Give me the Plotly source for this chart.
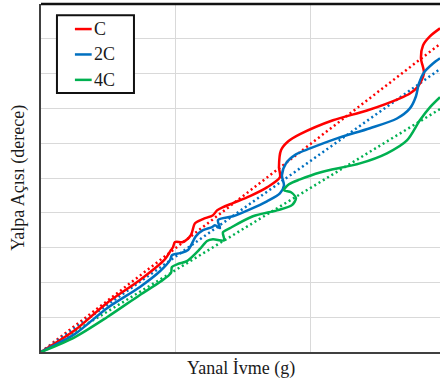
import plotly.graph_objects as go

# ---- data (Yanal İvme in g, Yalpa Açısı in derece) ----
series_names = ["C", "2C", "4C"]
series_colors = ["#FF0000", "#0070C0", "#00B050"]

c_x = [0, 0.252, 0.489, 0.733, 0.919, 0.963, 0.978, 0.993, 1.052, 1.111, 1.141, 1.2, 1.274, 1.304,
       1.348, 1.422, 1.548, 1.674, 1.770, 1.763, 1.778, 1.830, 1.919, 2.163, 2.415, 2.659,
       2.733, 2.793, 2.837, 2.815, 2.830, 2.881, 2.956]
c_y = [0, 0.63, 1.41, 2.07, 2.67, 2.93, 3.01, 3.16, 3.16, 3.36, 3.70, 3.82, 3.93, 4.07,
       4.16, 4.28, 4.48, 4.73, 5.02, 5.31, 5.80, 6.05, 6.26, 6.66, 6.94, 7.29,
       7.43, 7.63, 8.01, 8.44, 8.81, 9.07, 9.30]

c2_x = [0, 0.252, 0.489, 0.733, 0.881, 0.956, 0.970, 1.030, 1.089, 1.148, 1.2, 1.267, 1.289,
        1.326, 1.311, 1.422, 1.548, 1.674, 1.770, 1.8, 1.785, 1.815, 1.889, 1.993, 2.193,
        2.437, 2.637, 2.733, 2.778, 2.8, 2.837, 2.904, 2.956]
c2_y = [0, 0.52, 1.26, 1.87, 2.32, 2.64, 2.78, 2.84, 2.93, 3.33, 3.50, 3.59, 3.64,
        3.56, 3.79, 3.90, 4.10, 4.33, 4.56, 4.79, 5.08, 5.42, 5.68, 5.85, 6.14,
        6.43, 6.71, 7.0, 7.35, 7.72, 8.03, 8.29, 8.44]

c4_x = [0, 0.252, 0.489, 0.733, 0.881, 0.963, 0.970, 1.015, 1.081, 1.178, 1.230, 1.274, 1.356,
        1.348, 1.4, 1.570, 1.748, 1.859, 1.889, 1.852, 1.8, 1.837, 1.919, 2.067, 2.363,
        2.563, 2.711, 2.807, 2.881, 2.956]
c4_y = [0, 0.43, 1.0, 1.64, 2.01, 2.27, 2.44, 2.53, 2.61, 2.96, 3.19, 3.24, 3.21,
        3.44, 3.56, 3.90, 4.07, 4.22, 4.42, 4.59, 4.65, 4.82, 4.96, 5.16, 5.42,
        5.71, 6.08, 6.66, 7.03, 7.32]

# linear trend lines (dotted): endpoints
trend_x = [0, 2.956]
trend_c_y = [0, 8.85]
trend_2c_y = [0, 8.13]
trend_4c_y = [0, 6.98]

x_range = [0, 2.956]
y_range = [0, 10]

xs = [c_x, c2_x, c4_x]
ys = [c_y, c2_y, c4_y]
trend_ys = [trend_c_y, trend_2c_y, trend_4c_y]

FONT = "Liberation Serif, Times New Roman, serif"
TXT = "#1a1a1a"

fig = go.Figure()
for name, col, ty in zip(series_names, series_colors, trend_ys):
    fig.add_trace(go.Scatter(x=trend_x, y=ty, mode="lines", name=name + " trend",
                             line=dict(color=col, width=2.5, dash="2px,3px"),
                             showlegend=False, hoverinfo="skip"))
for name, col, x, y in zip(series_names, series_colors, xs, ys):
    fig.add_trace(go.Scatter(x=x, y=y, mode="lines", name=name,
                             line=dict(color=col, width=2.5, shape="spline", smoothing=0.8),
                             showlegend=False))

fig.update_layout(
    width=440, height=387,
    margin=dict(l=41, r=0, t=4, b=35),
    paper_bgcolor="white", plot_bgcolor="white",
    font=dict(family=FONT, color=TXT, size=18),
    xaxis=dict(range=x_range, dtick=1, showticklabels=False, ticks="",
               showgrid=True, gridcolor="#D9D9D9", gridwidth=1, zeroline=False,
               showline=True, linecolor="#404040", linewidth=2, mirror=False),
    yaxis=dict(range=y_range, dtick=1, showticklabels=False, ticks="",
               showgrid=True, gridcolor="#D9D9D9", gridwidth=1, zeroline=False,
               showline=True, linecolor="#404040", linewidth=2, mirror=False),
)

# top border
fig.add_shape(type="line", xref="paper", yref="paper", x0=0, x1=1, y0=1, y1=1,
              line=dict(color="#111111", width=2.5))

# axis titles
fig.add_annotation(text="Yanal İvme (g)", xref="paper", yref="paper", x=0.5, y=-0.046,
                   xanchor="center", yanchor="middle", showarrow=False,
                   font=dict(family=FONT, size=18, color=TXT))
fig.add_annotation(text="Yalpa Açısı (derece)", xref="paper", yref="paper", x=-0.058, y=0.5,
                   xanchor="center", yanchor="middle", textangle=-90, showarrow=False,
                   font=dict(family=FONT, size=18, color=TXT))

# legend box (manual)
fig.add_shape(type="rect", xref="paper", yref="paper", x0=0.040, x1=0.233, y0=0.744, y1=0.968,
              line=dict(color="#111111", width=2), fillcolor="white", layer="above")
leg_y = [0.928, 0.855, 0.782]
for name, col, yy in zip(series_names, series_colors, leg_y):
    fig.add_shape(type="line", xref="paper", yref="paper", x0=0.085, x1=0.127, y0=yy, y1=yy,
                  line=dict(color=col, width=2.5), layer="above")
    fig.add_annotation(text=name, xref="paper", yref="paper", x=0.127, y=yy,
                       xanchor="left", yanchor="middle", showarrow=False,
                       font=dict(family=FONT, size=18, color=TXT))

fig.write_html("out.html")
